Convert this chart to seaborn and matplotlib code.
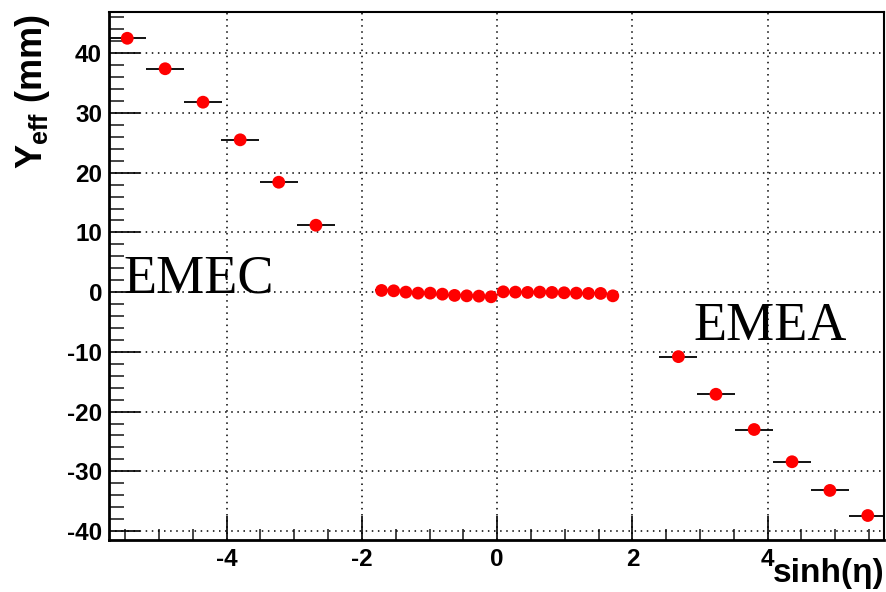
import numpy as np
import pandas as pd
import matplotlib
matplotlib.use("Agg")
import matplotlib.pyplot as plt
import seaborn as sns
from matplotlib.ticker import MultipleLocator

# ---- data ----
emec_x = [-5.47, -4.91, -4.35, -3.80, -3.23, -2.68]
emec_y = [42.5, 37.4, 31.8, 25.5, 18.4, 11.2]
emec_xerr = [0.28, 0.28, 0.28, 0.28, 0.28, 0.28]

central_x = [-1.71, -1.53, -1.35, -1.17, -0.99, -0.81, -0.63, -0.45, -0.27, -0.09,
             0.09, 0.27, 0.45, 0.63, 0.81, 0.99, 1.17, 1.35, 1.53, 1.71]
central_y = [0.28, 0.22, 0.0, -0.17, -0.17, -0.34, -0.55, -0.62, -0.67, -0.78,
             0.05, 0.0, -0.05, 0.0, -0.05, -0.11, -0.17, -0.22, -0.22, -0.62]
central_xerr = [0.09] * 20

emea_x = [2.68, 3.235, 3.80, 4.36, 4.92, 5.48]
emea_y = [-10.8, -17.1, -23.0, -28.4, -33.2, -37.4]
emea_xerr = [0.28, 0.28, 0.28, 0.28, 0.28, 0.28]

x_ticks = [-4, -2, 0, 2, 4]
y_ticks = [-40, -30, -20, -10, 0, 10, 20, 30, 40]

df = pd.DataFrame({
    "x": emec_x + central_x + emea_x,
    "y": emec_y + central_y + emea_y,
    "xerr": emec_xerr + central_xerr + emea_xerr,
})

sns.set_theme(style="white")
plt.rcParams["font.family"] = ["Liberation Sans", "DejaVu Sans"]
plt.rcParams["mathtext.fontset"] = "custom"
plt.rcParams["mathtext.rm"] = "Liberation Sans:bold"
plt.rcParams["mathtext.bf"] = "Liberation Sans:bold"

fig = plt.figure(figsize=(8.86, 5.92), dpi=100)
ax = fig.add_axes([109 / 886, 1 - 540 / 592, (884 - 109) / 886, (540 - 12) / 592])

ax.errorbar(df["x"], df["y"], xerr=df["xerr"], fmt="none", ecolor="black",
            elinewidth=1.3, capsize=0, zorder=2)
sns.scatterplot(data=df, x="x", y="y", ax=ax, color="#ff0000", s=85,
                edgecolor="none", linewidth=0, zorder=3, legend=False)

ax.set_xlim(-5.74, 5.72)
ax.set_ylim(-41.5, 46.9)
ax.set_xticks(x_ticks)
ax.set_yticks(y_ticks)
ax.set_xticklabels([str(v) for v in x_ticks])
ax.set_yticklabels([str(v) for v in y_ticks])
ax.xaxis.set_minor_locator(MultipleLocator(0.5))
ax.yaxis.set_minor_locator(MultipleLocator(2))

ax.tick_params(axis="x", which="major", direction="in", length=17, width=1.2,
               bottom=True, top=False, labelsize=17.5, pad=6, colors="black")
ax.tick_params(axis="x", which="minor", direction="in", length=8, width=1.2,
               bottom=True, top=False)
ax.tick_params(axis="y", which="major", direction="in", length=22, width=1.2,
               left=True, right=False, labelsize=17.5, pad=5, colors="black")
ax.tick_params(axis="y", which="minor", direction="in", length=11, width=1.2,
               left=True, right=False)
for lab in ax.get_xticklabels() + ax.get_yticklabels():
    lab.set_fontweight("bold")

ax.grid(True, which="major", color="black", linestyle=(0, (1, 3)), linewidth=1.1)
ax.set_axisbelow(True)
for side in ["left", "bottom"]:
    ax.spines[side].set_linewidth(2.0)
    ax.spines[side].set_color("black")
for side in ["top", "right"]:
    ax.spines[side].set_linewidth(1.5)
    ax.spines[side].set_color("black")
ax.set_xlabel("")
ax.set_ylabel("")

fig.text(13 / 886, 1 - 14 / 592, r"Y$_{\mathbf{eff}}$ (mm)", rotation=90,
         ha="left", va="top", fontsize=26, fontweight="bold", color="black")
fig.text(884 / 886, 1 - 589 / 592, "sinh(η)", ha="right", va="bottom",
         fontsize=24, fontweight="bold", color="black")

ax.text(-5.52, 0.0, "EMEC", fontsize=39, family=["Liberation Serif", "DejaVu Serif"],
        ha="left", va="baseline", color="black")
ax.text(2.90, -8.0, "EMEA", fontsize=39, family=["Liberation Serif", "DejaVu Serif"],
        ha="left", va="baseline", color="black")

fig.savefig("out.png", dpi=100, facecolor="white")
